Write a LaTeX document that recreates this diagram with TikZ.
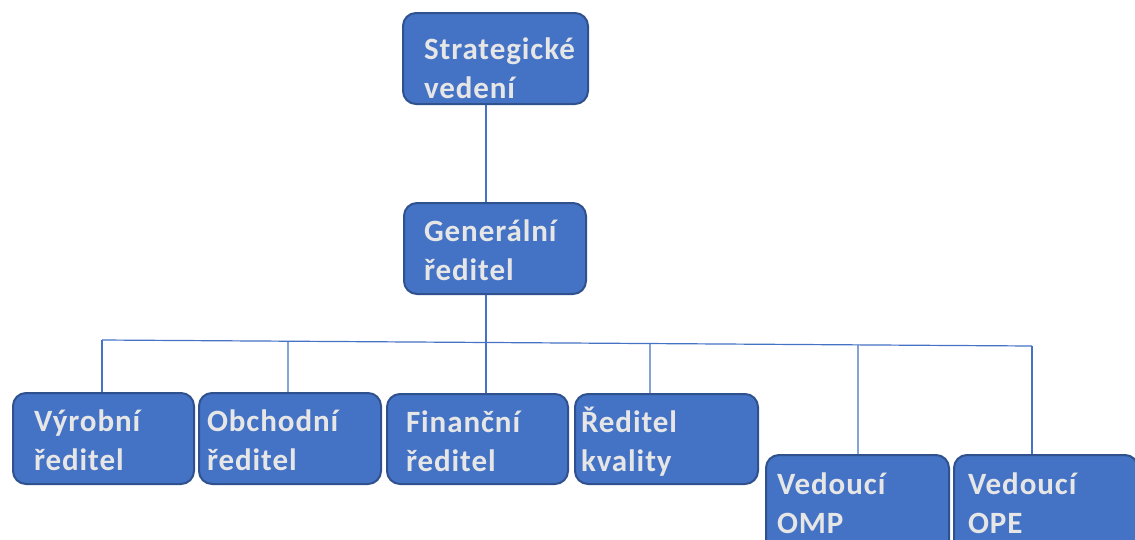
\documentclass[tikz,border=0pt]{standalone}
\usepackage{fontspec}
\setmainfont{Carlito}[LetterSpace=3]
\usepackage{tikz}
\usetikzlibrary{positioning,calc}
\usepackage{xcolor}
\definecolor{boxfill}{HTML}{4472C4}
\definecolor{boxedge}{HTML}{2F528F}
\definecolor{boxtext}{HTML}{E6E6E6}
\definecolor{linkblue}{HTML}{4472C4}

\begin{document}
\begin{tikzpicture}[x=1pt,y=-1pt,
    box/.style={draw=boxedge, line width=2pt, fill=boxfill, rounded corners=13pt,
        anchor=north west, align=left, minimum height=91pt, inner ysep=0pt,
        text height=38pt, text depth=53pt, text=boxtext,
        font=\bfseries\fontsize{31}{39}\selectfont},
    link/.style={draw=linkblue, line width=1.2pt}]
        \useasboundingbox (0,0) rectangle (1135,539);
        \clip (0,0) rectangle (1135,539);

        % Top of the tree
        \node[box, inner xsep=21pt, text width=143pt, text height=46pt, text depth=45pt] (strat) at (402,12) {Strategické\\vedení};
        \node[box, inner xsep=20pt, text width=142pt] (gen) at (403,202) {Generální\\ředitel};

        % Directors
        \node[box, inner xsep=21pt, text width=139pt] (vyr) at (12,392) {Výrobní\\ředitel};
        \node[box, inner xsep=8pt, text width=166pt] (obch) at (198,392) {Obchodní\\ředitel};
        \node[box, inner xsep=19pt, text width=143pt, minimum height=90pt, text depth=52pt] (fin) at (386,393) {Finanční\\ředitel};
        \node[box, inner xsep=6pt, text width=171pt, minimum height=90pt, text depth=52pt] (kval) at (574,393) {Ředitel\\kvality};

        % Heads of departments (lower row)
        \node[box, inner xsep=11pt, text width=161pt, text height=39pt, text depth=61pt] (omp) at (765,454) {Vedoucí\\OMP};
        \node[box, inner xsep=14pt, text width=156pt, text height=39pt, text depth=61pt] (ope) at (953,454) {Vedoucí\\OPE};

        % Trunk
        \coordinate (trunk) at (486,0);
        \draw[link] (strat.south -| trunk) -- (gen.north -| trunk);
        \draw[link] (gen.south -| trunk) -- (fin.north -| trunk);

        % Bus and drops
        \coordinate (busL) at (102,340);
        \coordinate (busR) at (1032,346);
        \draw[link] (busL) -- (busR);
        \foreach \xx/\nn in {102/vyr, 288/obch, 650/kval, 858/omp, 1032/ope} {
            \coordinate (drop) at (\xx,0);
            \draw[link] ($(busL)!{(\xx-102)/930}!(busR)$) -- (\nn.north -| drop);
        }
    \end{tikzpicture}
\end{document}
